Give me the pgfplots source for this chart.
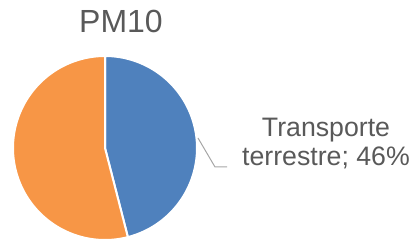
\documentclass[border=0pt]{standalone}
\usepackage{pgfplots}
\pgfplotsset{compat=1.18}
\usepackage{fontspec}
\setmainfont{Liberation Sans}
\definecolor{pieblue}{HTML}{4F81BD}
\definecolor{pieorange}{HTML}{F79646}
\definecolor{txtgray}{HTML}{595959}
\definecolor{leadgray}{HTML}{A6A6A6}
% shares (%)
\def\shareTransporte{46}
\def\shareOtros{54}
\begin{document}
\begin{tikzpicture}
\pgfmathsetmacro{\angStart}{90}
\pgfmathsetmacro{\angMid}{90-3.6*\shareTransporte}
\pgfmathsetmacro{\angEnd}{\angMid-3.6*\shareOtros}
\begin{axis}[
  width=413pt, height=241pt, scale only axis,
  xmin=0, xmax=413, ymin=0, ymax=241,
  hide axis, clip=false,
]
\path (axis cs:0,0) rectangle (axis cs:413,241);
% slices
\addplot[fill=pieblue, draw=white, line width=2pt, line join=round, domain=\angMid:\angStart, samples=150, variable=\t]
  ({105+92*cos(\t)},{93+92*sin(\t)}) -- (axis cs:105,93) -- cycle;
\addplot[fill=pieorange, draw=white, line width=2pt, line join=round, domain=\angEnd:\angMid, samples=150, variable=\t]
  ({105+92*cos(\t)},{93+92*sin(\t)}) -- (axis cs:105,93) -- cycle;
% leader line
\addplot[leadgray, line width=1pt, mark=none] coordinates {(198,103) (215,74) (227,74)};
% labels
\node[anchor=base, text=txtgray, font=\fontsize{32}{38}\selectfont, inner sep=0pt] at (axis cs:121,208) {PM10};
\node[anchor=base, text=txtgray, font=\fontsize{26.7}{30}\selectfont, inner sep=0pt] at (axis cs:326,104) {Transporte};
\node[anchor=base, text=txtgray, font=\fontsize{26.7}{30}\selectfont, inner sep=0pt] at (axis cs:326,75) {terrestre; 46\%};
\end{axis}
\end{tikzpicture}
\end{document}
